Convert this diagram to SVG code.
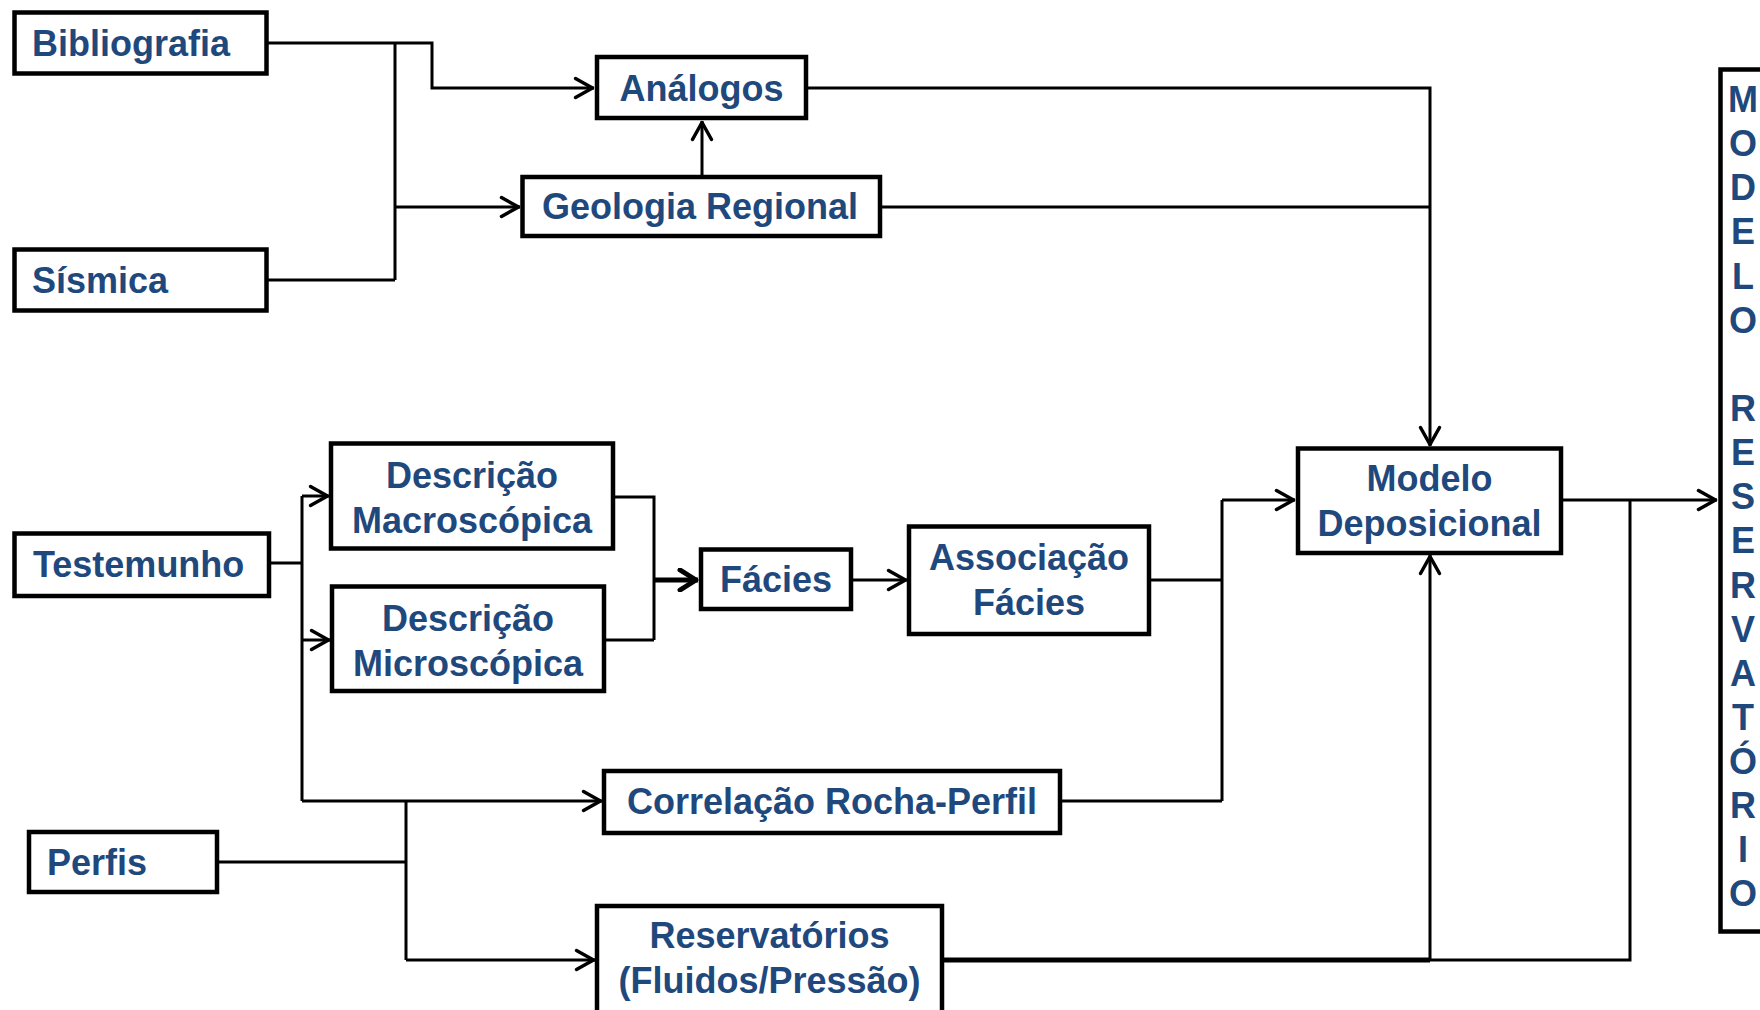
<svg xmlns="http://www.w3.org/2000/svg" width="1760" height="1010" viewBox="0 0 1760 1010">
<style>
.box{fill:#fff;stroke:#000;stroke-width:4.5}
.t{font-family:"Liberation Sans",Arial,sans-serif;font-weight:bold;font-size:36px;fill:#1F497D}
.c{text-anchor:middle}
.ln{fill:none;stroke:#000;stroke-width:3}
.thk{fill:none;stroke:#000;stroke-width:5}
</style>
<defs>
<marker id="arr" viewBox="-20 -12 24 24" refX="1.5" refY="0" markerWidth="24" markerHeight="24" orient="auto" markerUnits="userSpaceOnUse">
<path d="M-17,-9.5 L0,0 L-17,9.5" fill="none" stroke="#000" stroke-width="3.5" stroke-linejoin="round" stroke-linecap="round"/>
</marker>
<marker id="arrT" viewBox="-20 -12 24 24" refX="2" refY="0" markerWidth="24" markerHeight="24" orient="auto" markerUnits="userSpaceOnUse">
<path d="M-16,-10 L0,0 L-16,10" fill="none" stroke="#000" stroke-width="5" stroke-linejoin="round" stroke-linecap="round"/>
</marker>
</defs>
<rect width="1760" height="1010" fill="#fff"/>
<g id="connectors">
<path class="ln" d="M267,43 H432 V88 H594" marker-end="url(#arr)"/>
<path class="ln" d="M395,43 V280 M267,280 H395"/>
<path class="ln" d="M395,207 H520" marker-end="url(#arr)"/>
<path class="ln" d="M702,177 V121" marker-end="url(#arr)"/>
<path class="ln" d="M806,88 H1430 V446" marker-end="url(#arr)"/>
<path class="ln" d="M880,207 H1430"/>
<path class="ln" d="M269,563 H302 M302,496 V801"/>
<path class="ln" d="M302,496 H329" marker-end="url(#arr)"/>
<path class="ln" d="M302,640 H330" marker-end="url(#arr)"/>
<path class="ln" d="M302,801 H602" marker-end="url(#arr)"/>
<path class="ln" d="M613,497 H654 V640 M604,640 H654"/>
<path class="thk" d="M654,580 H698" marker-end="url(#arrT)"/>
<path class="ln" d="M851,580 H907" marker-end="url(#arr)"/>
<path class="ln" d="M1149,580 H1222 M1222,500 V801 M1060,801 H1222"/>
<path class="ln" d="M1222,500 H1295" marker-end="url(#arr)"/>
<path class="ln" d="M217,862 H406 M406,801 V960"/>
<path class="ln" d="M406,960 H595" marker-end="url(#arr)"/>
<path class="thk" d="M942,960 H1430"/>
<path class="ln" d="M1430,960 H1630 V500"/>
<path class="ln" d="M1430,960 V555" marker-end="url(#arr)"/>
<path class="ln" d="M1561,500 H1717" marker-end="url(#arr)"/>
</g>
<g id="bibliografia"><rect class="box" x="14.5" y="12.5" width="252" height="61"/><text class="t" x="32" y="56">Bibliografia</text></g>
<g id="sismica"><rect class="box" x="14.5" y="249.5" width="252" height="61"/><text class="t" x="32" y="293">Sísmica</text></g>
<g id="analogos"><rect class="box" x="597" y="57" width="209" height="61"/><text class="t c" x="701.5" y="101">Análogos</text></g>
<g id="geologia-regional"><rect class="box" x="522.5" y="177" width="357.5" height="59"/><text class="t c" x="700" y="219">Geologia Regional</text></g>
<g id="testemunho"><rect class="box" x="14.5" y="533.5" width="254.5" height="62.5"/><text class="t" x="33" y="577">Testemunho</text></g>
<g id="descricao-macroscopica"><rect class="box" x="331" y="443.5" width="282" height="105"/><text class="t c" x="472" y="488">Descrição</text><text class="t c" x="472" y="533">Macroscópica</text></g>
<g id="descricao-microscopica"><rect class="box" x="332" y="586.5" width="272" height="104.5"/><text class="t c" x="468" y="631">Descrição</text><text class="t c" x="468" y="676">Microscópica</text></g>
<g id="facies"><rect class="box" x="701" y="549.5" width="150" height="59.5"/><text class="t c" x="776" y="592">Fácies</text></g>
<g id="associacao-facies"><rect class="box" x="909" y="526.5" width="240" height="107.5"/><text class="t c" x="1029" y="570">Associação</text><text class="t c" x="1029" y="615">Fácies</text></g>
<g id="modelo-deposicional"><rect class="box" x="1298" y="448.5" width="263" height="104.5"/><text class="t c" x="1429.5" y="491">Modelo</text><text class="t c" x="1429.5" y="536">Deposicional</text></g>
<g id="correlacao"><rect class="box" x="604" y="771" width="456" height="62"/><text class="t c" x="832" y="814">Correlação Rocha-Perfil</text></g>
<g id="perfis"><rect class="box" x="29" y="832" width="188" height="60"/><text class="t" x="47" y="875">Perfis</text></g>
<g id="reservatorios"><rect class="box" x="597" y="906" width="345" height="120"/><text class="t c" x="769.5" y="948">Reservatórios</text><text class="t c" x="769.5" y="993">(Fluidos/Pressão)</text></g>
<g id="modelo-reservatorio"><rect class="box" x="1720.5" y="69.5" width="60" height="862"/>
<text class="t c" x="1743" y="112">M</text><text class="t c" x="1743" y="156">O</text><text class="t c" x="1743" y="200">D</text><text class="t c" x="1743" y="244">E</text><text class="t c" x="1743" y="289">L</text><text class="t c" x="1743" y="333">O</text>
<text class="t c" x="1743" y="421">R</text><text class="t c" x="1743" y="465">E</text><text class="t c" x="1743" y="509">S</text><text class="t c" x="1743" y="553">E</text><text class="t c" x="1743" y="598">R</text><text class="t c" x="1743" y="642">V</text><text class="t c" x="1743" y="686">A</text><text class="t c" x="1743" y="730">T</text><text class="t c" x="1743" y="774">Ó</text><text class="t c" x="1743" y="818">R</text><text class="t c" x="1743" y="862">I</text><text class="t c" x="1743" y="906">O</text>
</g>
</svg>
